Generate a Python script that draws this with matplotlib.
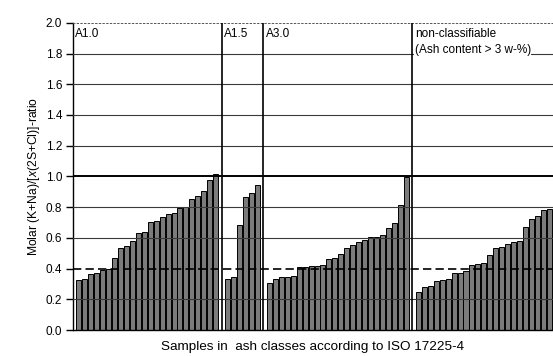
import matplotlib.pyplot as plt
import numpy as np

plt.rcParams['font.family'] = ['Liberation Sans', 'DejaVu Sans']
plt.rcParams['mathtext.fontset'] = 'custom'
plt.rcParams['mathtext.it'] = 'Liberation Sans:italic'
plt.rcParams['mathtext.rm'] = 'Liberation Sans'
plt.rcParams['lines.scale_dashes'] = False

# molar ratio per sample, sorted within each ash class
ratio_a10 = [0.324, 0.329, 0.363, 0.374, 0.389, 0.400, 0.467, 0.534, 0.545, 0.580,
             0.634, 0.640, 0.705, 0.709, 0.735, 0.757, 0.759, 0.796, 0.804, 0.850,
             0.871, 0.904, 0.975, 1.018]
ratio_a15 = [0.335, 0.346, 0.685, 0.865, 0.889, 0.945]
ratio_a30 = [0.307, 0.329, 0.344, 0.348, 0.350, 0.409, 0.413, 0.417, 0.419, 0.424,
             0.463, 0.467, 0.495, 0.532, 0.554, 0.573, 0.584, 0.605, 0.605, 0.618,
             0.662, 0.698, 0.815, 0.995]
ratio_nc = [0.249, 0.281, 0.288, 0.318, 0.326, 0.333, 0.368, 0.372, 0.381, 0.424,
            0.432, 0.437, 0.486, 0.534, 0.543, 0.560, 0.573, 0.579, 0.670, 0.720,
            0.742, 0.781, 0.787]

class_names = ['A1.0', 'A1.5', 'A3.0', 'non-classifiable\n(Ash content > 3 w-%)']
class_values = [ratio_a10, ratio_a15, ratio_a30, ratio_nc]

y_ticks = np.arange(0, 2.01, 0.2)
threshold = 0.4

fig = plt.figure(figsize=(5.53, 3.56), dpi=100)
ax = fig.add_axes([0.1315, 0.073, 0.8685, 0.863])

start = 1
for name, vals in zip(class_names, class_values):
    x = np.arange(start, start + len(vals))
    ax.bar(x, vals, width=0.84, color='#7b7b7b', edgecolor='black',
           linewidth=0.7, zorder=2)
    bbox = None
    if '\n' in name:
        bbox = dict(facecolor='white', edgecolor='none', pad=0.3)
    ax.text(start - 0.6, 1.965, name, ha='left', va='top', fontsize=8.5,
            linespacing=1.4, bbox=bbox, zorder=6)
    sep = start + len(vals)
    if sep < 80:
        ax.axvline(sep, color='black', lw=1.2, zorder=5)
    start = sep + 1

for yv in y_ticks[1:-1]:
    if np.isclose(yv, 1.0):
        ax.axhline(yv, color='black', lw=1.4, zorder=3)
    elif np.isclose(yv, threshold):
        ax.axhline(yv, color='black', lw=1.2, dashes=(6, 3), zorder=4)
    else:
        ax.axhline(yv, color='#3a3a3a', lw=0.8, zorder=3)

ax.set_xlim(0, 80.6)
ax.set_ylim(0, 2.0)
ax.set_yticks(y_ticks)
ax.set_yticklabels([f'{v:.1f}' for v in y_ticks])
ax.set_xticks([])
ax.tick_params(axis='y', direction='out', length=5, width=1, labelsize=8.5, pad=2.5)

ax.spines['right'].set_visible(False)
ax.spines['top'].set_linestyle(':')
ax.spines['top'].set_color('#555555')
ax.spines['top'].set_linewidth(0.7)
ax.spines['left'].set_linewidth(1.0)
ax.spines['bottom'].set_linewidth(1.0)

ax.set_ylabel(r'Molar (K+Na)/[$\mathit{x}$(2S+Cl)]-ratio', fontsize=8.7, labelpad=3)
ax.set_xlabel('Samples in  ash classes according to ISO 17225-4', fontsize=9.7, labelpad=8)

fig.savefig('out.png', dpi=100)
